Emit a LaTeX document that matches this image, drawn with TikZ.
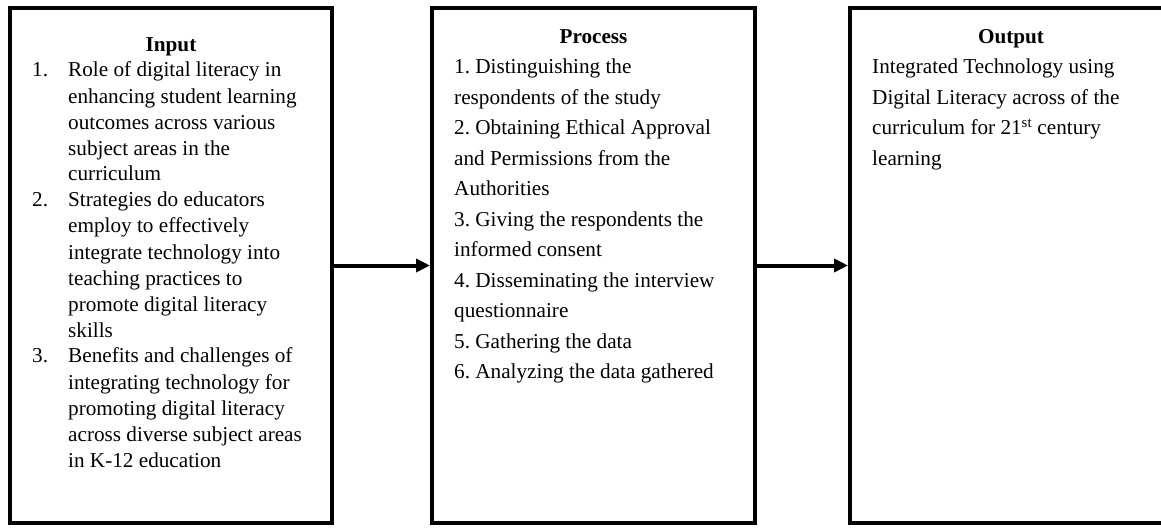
\documentclass[tikz,border=0pt]{standalone}
\usepackage{fontspec}
\setmainfont{Liberation Serif}
\usetikzlibrary{arrows.meta}
\usetikzlibrary{positioning}
\frenchspacing

\newcommand{\inputfont}{\fontsize{21.2}{26}\selectfont}
\newcommand{\procfont}{\fontsize{21.2}{30.5}\selectfont}

\begin{document}
\begin{tikzpicture}[x=1pt, y=-1pt,
        ipobox/.style={draw, line width=4pt, minimum height=515pt, inner sep=0pt},
        ipotext/.style={inner sep=0pt, anchor=base west},
        ipotitle/.style={inner sep=0pt, anchor=base, font={\inputfont\bfseries}},
        flow/.style={-{Triangle[length=14pt, width=13pt]}, line width=4pt}]
    \useasboundingbox (0, 0) rectangle (1161, 527);
    \clip (0, 0) rectangle (1161, 527);

    \node[ipobox, minimum width=322pt](input) at (171, 265.5){};
    \node[ipobox, minimum width=323pt](process) at (593.5, 265.5){};
    \node[ipobox, minimum width=320pt](output) at (1010, 265.5){};

    \draw[flow](input)--(process);
    \draw[flow](process)--(output);

    \node[ipotitle](inputtitle) at (171, 52){Input};
    \node[ipotitle](processtitle) at (593.5, 44){Process};
    \node[ipotitle](outputtitle) at (1011, 44){Output};

    \node[ipotext, font=\inputfont](inputlist) at (32, 77){%
        \begin{tabular}[t]{@{}p{36pt}@{}l@{}}
            1. & Role of digital literacy in\\
               & enhancing student learning\\
               & outcomes across various\\
               & subject areas in the\\
               & curriculum\\
            2. & Strategies do educators\\
               & employ to effectively\\
               & integrate technology into\\
               & teaching practices to\\
               & promote digital literacy\\
               & skills\\
            3. & Benefits and challenges of\\
               & integrating technology for\\
               & promoting digital literacy\\
               & across diverse subject areas\\
               & in K-12 education
        \end{tabular}};

    \node[ipotext, font=\procfont](processlist) at (454, 74){%
        \begin{tabular}[t]{@{}l@{}}
            1. Distinguishing the\\
            respondents of the study\\
            2. Obtaining Ethical Approval\\
            and Permissions from the\\
            Authorities\\
            3. Giving the respondents the\\
            informed consent\\
            4. Disseminating the interview\\
            questionnaire\\
            5. Gathering the data\\
            6. Analyzing the data gathered
        \end{tabular}};

    \node[ipotext, font=\procfont](outputlist) at (872, 74){%
        \begin{tabular}[t]{@{}l@{}}
            Integrated Technology using\\
            Digital Literacy across of the\\
            curriculum for 21\textsuperscript{st} century\\
            learning
        \end{tabular}};
\end{tikzpicture}
\end{document}
